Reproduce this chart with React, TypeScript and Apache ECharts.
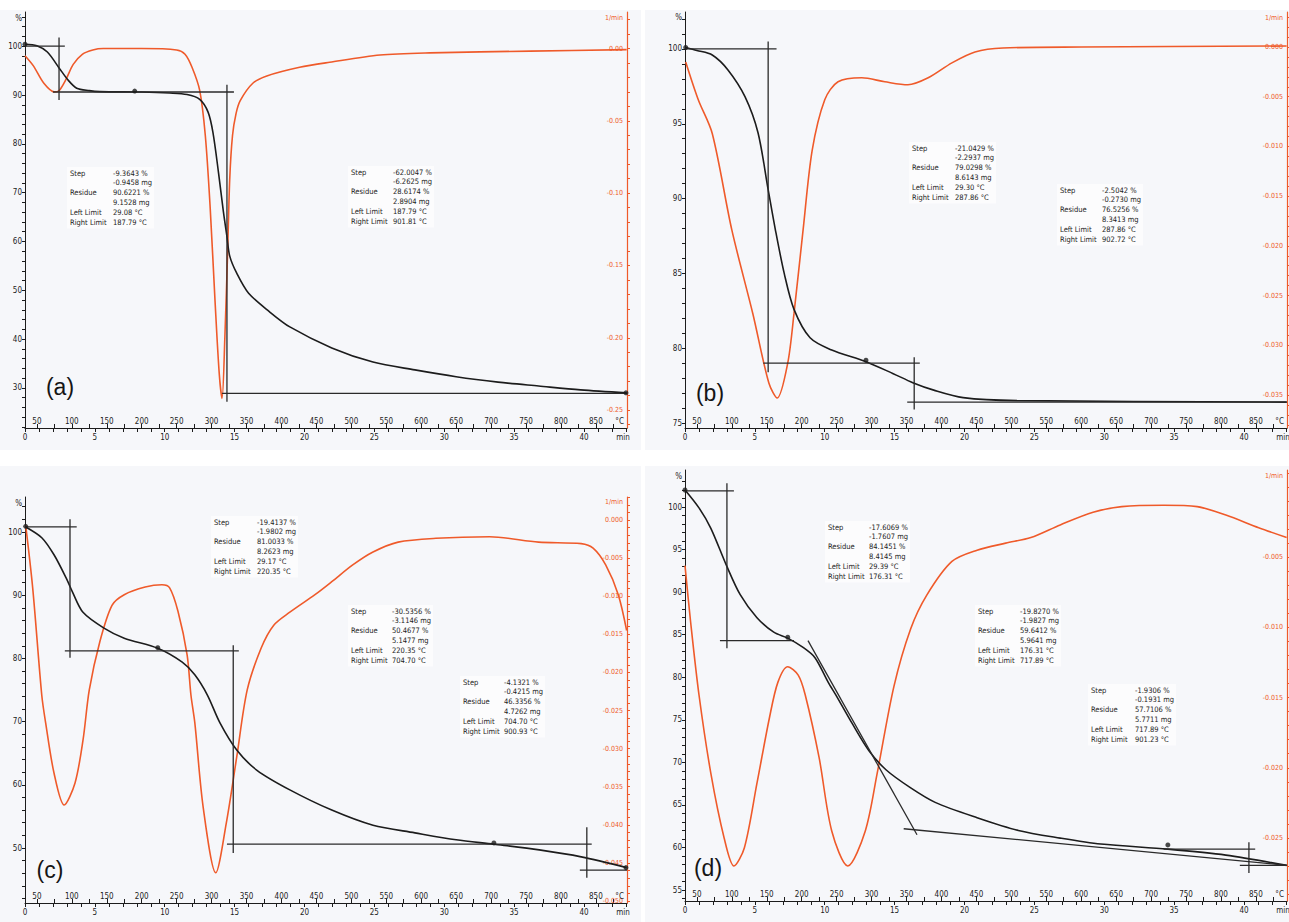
import { useEffect, useRef } from 'react';
import * as echarts from 'echarts';

type Pt = [number, number];

// ---------- shared axis values ----------
const tempLabels = [50, 100, 150, 200, 250, 300, 350, 400, 450, 500, 550, 600, 650, 700, 750, 800, 850];
const minuteLabels = [0, 5, 10, 15, 20, 25, 30, 35, 40];
const rowLabels = ['Step', '', 'Residue', '', 'Left Limit', 'Right Limit'];

// ---------- panel (a) ----------
const tgA: Pt[] = [[33, 100.4], [50, 100.1], [65, 98.8], [82, 95.5], [95, 93.0], [107, 91.4], [125, 90.9], [140, 90.7], [200, 90.6], [240, 90.4], [265, 90.1], [283, 89.1], [295, 86.5], [302, 82.3], [310, 74], [317, 66], [322, 61], [326, 57], [336, 53.5], [353, 49.4], [383, 45.6], [412, 42.5], [472, 38.2], [531, 35.3], [591, 33.7], [650, 32.3], [710, 31.2], [768, 30.4], [828, 29.6], [894, 29.0]];
const dtgA: Pt[] = [[33, -0.005], [45, -0.012], [60, -0.024], [75, -0.030], [82, -0.029], [92, -0.021], [102, -0.011], [115, -0.004], [130, -0.001], [145, 0], [200, 0], [250, -0.001], [262, -0.004], [272, -0.013], [283, -0.029], [291, -0.06], [298, -0.11], [305, -0.175], [311, -0.225], [315, -0.242], [319, -0.2], [323, -0.14], [326, -0.09], [330, -0.06], [335, -0.045], [341, -0.036], [359, -0.024], [379, -0.019], [426, -0.013], [469, -0.0095], [541, -0.0045], [612, -0.003], [756, -0.0018], [894, -0.0008]];
const segA: Pt[][] = [[[33, 100], [90, 100]], [[81.7, 101.8], [81.7, 89.0]], [[73, 90.62], [332, 90.62]], [[322, 92.1], [322, 27.2]], [[315, 28.9], [894.5, 28.9]]];
const dotsA: Pt[] = [[33, 100.4], [190, 90.8], [893, 29.0]];
const textA1 = ['-9.3643 %', '-0.9458 mg', '90.6221 %', '9.1528 mg', '29.08 °C', '187.79 °C'];
const textA2 = ['-62.0047 %', '-6.2625 mg', '28.6174 %', '2.8904 mg', '187.79 °C', '901.81 °C'];

// ---------- panel (b) ----------
const tgB: Pt[] = [[34, 100.1], [50, 99.9], [72, 99.6], [94.5, 98.6], [119, 96.8], [137.5, 94.4], [152, 90.6], [162, 88.0], [175, 85.0], [189, 82.6], [212, 80.7], [242, 79.9], [292, 79.1], [331, 78.3], [359, 77.7], [389, 77.2], [431, 76.7], [508, 76.5], [894, 76.4]];
const dtgB: Pt[] = [[34, -0.0015], [52, -0.0053], [72, -0.0087], [100, -0.0184], [130, -0.0268], [153, -0.0338], [165, -0.0353], [180, -0.0318], [189, -0.0268], [202, -0.0184], [215, -0.0104], [233, -0.0053], [252, -0.0035], [286, -0.0031], [319, -0.0035], [352, -0.0038], [381, -0.0031], [415, -0.0016], [448, -0.0005], [488, -0.0001], [600, 0], [894, 0.0001]];
const segB: Pt[][] = [[[33, 100], [164, 100]], [[152, 100.5], [152, 78.4]], [[145, 79.0], [369, 79.0]], [[361, 79.4], [361, 75.9]], [[351, 76.4], [894.5, 76.4]]];
const dotsB: Pt[] = [[34, 100.1], [292, 79.2]];
const textB1 = ['-21.0429 %', '-2.2937 mg', '79.0298 %', '8.6143 mg', '29.30 °C', '287.86 °C'];
const textB2 = ['-2.5042 %', '-0.2730 mg', '76.5256 %', '8.3413 mg', '287.86 °C', '902.72 °C'];

// ---------- panel (c) ----------
const tgC: Pt[] = [[34, 100.8], [57, 99.1], [74.5, 96.4], [92, 92.7], [101, 90.5], [116, 87.3], [146, 84.8], [175, 83.2], [223, 81.6], [258, 79.4], [276, 77.4], [294, 74.2], [312, 69.8], [336, 65.5], [365, 62.3], [412, 59.2], [472, 56.0], [531, 53.6], [591, 52.4], [650, 51.3], [704, 50.6], [769, 49.7], [829, 48.6], [894, 46.9]];
const dtgC: Pt[] = [[34, -0.0007], [44, -0.0089], [57, -0.023], [62.5, -0.0266], [74.5, -0.0332], [89, -0.0374], [104.6, -0.0345], [116, -0.0289], [125, -0.0223], [140, -0.016], [157.5, -0.0112], [175, -0.0098], [205, -0.0088], [229, -0.0085], [240, -0.0089], [252, -0.012], [265, -0.0177], [270.5, -0.023], [276, -0.0266], [288, -0.0377], [306, -0.0463], [321, -0.0398], [336, -0.0311], [351, -0.0223], [371, -0.0168], [389, -0.0138], [412, -0.0121], [448, -0.0098], [472, -0.0081], [502, -0.0059], [531, -0.0042], [567, -0.0029], [621, -0.0024], [698, -0.0022], [768, -0.0029], [829, -0.0031], [846, -0.0037], [864, -0.0059], [882, -0.0098], [894, -0.0145]];
const segC: Pt[][] = [[[33, 100.8], [107, 100.8]], [[97.4, 102], [97.4, 80.1]], [[90, 81.2], [339, 81.2]], [[331, 82.1], [331, 49.2]], [[322, 50.6], [844, 50.6]], [[837, 53.3], [837, 45.3]], [[827, 46.5], [894.5, 46.5]]];
const dotsC: Pt[] = [[34, 100.9], [223, 81.7], [704, 50.8], [893, 46.9]];
const textC1 = ['-19.4137 %', '-1.9802 mg', '81.0033 %', '8.2623 mg', '29.17 °C', '220.35 °C'];
const textC2 = ['-30.5356 %', '-3.1146 mg', '50.4677 %', '5.1477 mg', '220.35 °C', '704.70 °C'];
const textC3 = ['-4.1321 %', '-0.4215 mg', '46.3356 %', '4.7262 mg', '704.70 °C', '900.93 °C'];

// ---------- panel (d) ----------
const tgD: Pt[] = [[33, 102.0], [53, 99.9], [70, 97.5], [92, 93.2], [112, 89.7], [136, 87.0], [160, 85.3], [180, 84.6], [202, 83.5], [219, 82.3], [238, 79.4], [249, 77.9], [272, 74.6], [296, 71.4], [321, 69.1], [356, 67.0], [391, 65.3], [451, 63.5], [510, 62.0], [570, 61.1], [628, 60.4], [724, 59.8], [807, 59.1], [894, 57.9]];
const dtgD: Pt[] = [[33, -0.0056], [41, -0.0096], [53, -0.0148], [70, -0.0204], [89, -0.025], [103, -0.027], [118, -0.0257], [136, -0.0211], [154, -0.0164], [166, -0.0139], [180, -0.0128], [195, -0.0134], [205, -0.0148], [225, -0.0193], [243, -0.0245], [266, -0.027], [291, -0.0245], [308, -0.0204], [332, -0.0142], [356, -0.0101], [379, -0.0077], [415, -0.0053], [451, -0.0045], [492, -0.004], [528, -0.0036], [570, -0.0027], [617, -0.0018], [658, -0.0014], [718, -0.0013], [766, -0.0014], [807, -0.002], [854, -0.0029], [894, -0.0036]];
const segD: Pt[][] = [[[33, 101.9], [103, 101.9]], [[93, 102.8], [93, 83.4]], [[83, 84.3], [189, 84.3]], [[209, 84.3], [365, 61.5]], [[346, 62.2], [894.5, 57.9]], [[718, 59.8], [849, 59.8]], [[840, 60.6], [840, 57.0]], [[827, 57.9], [894.5, 57.9]]];
const dotsD: Pt[] = [[33, 102.0], [180, 84.7], [724, 60.3]];
const textD1 = ['-17.6069 %', '-1.7607 mg', '84.1451 %', '8.4145 mg', '29.39 °C', '176.31 °C'];
const textD2 = ['-19.8270 %', '-1.9827 mg', '59.6412 %', '5.9641 mg', '176.31 °C', '717.89 °C'];
const textD3 = ['-1.9306 %', '-0.1931 mg', '57.7106 %', '5.7711 mg', '717.89 °C', '901.23 °C'];

// ---------- helpers ----------
function range(a: number, b: number, step: number, dec = 6): number[] {
  const out: number[] = [];
  const n = Math.round((b - a) / step);
  for (let i = 0; i <= n; i++) out.push(+(a + i * step).toFixed(dec));
  return out;
}

const ORANGE = '#ef5a2a';
const INK = '#1c1c1c';
const FONT = '"DejaVu Sans Condensed", "DejaVu Sans", sans-serif';

const T_MIN = 33;
const T_MAX = 894.5;
const M_MAX = 43.08;
const TEMP_END = 884; // position of the "°C" unit label
const MIN_END = 42.8; // position of the "min" unit label

interface PanelCfg {
  grid: { left: number; top: number; width: number; height: number };
  left: { min: number; max: number; labels: number[]; ticks: number[]; unit: number };
  right: { min: number; max: number; labels: number[]; ticks: number[]; unit: number; dec: number };
  tg: Pt[];
  dtg: Pt[];
  segs: Pt[][];
  dots: Pt[];
  blocks: { lx: number; vx: number; y: number; vals: string[] }[];
  label: string;
  labelPos: [number, number];
  bg: [number, number, number, number];
}

const panels: PanelCfg[] = [
  {
    grid: { left: 25, top: 12, width: 602, height: 416 },
    left: { min: 21.8, max: 107.0, labels: range(30, 100, 10), ticks: range(22, 106, 2), unit: 105.7 },
    right: { min: -0.2624, max: 0.02524, labels: range(-0.25, 0, 0.05), ticks: range(-0.26, 0.02, 0.01), unit: 0.0211, dec: 2 },
    tg: tgA, dtg: dtgA, segs: segA, dots: dotsA,
    blocks: [{ lx: 70, vx: 113, y: 173, vals: textA1 }, { lx: 351, vx: 393, y: 172, vals: textA2 }],
    label: '(a)', labelPos: [60, 387], bg: [0, 10, 641, 440],
  },
  {
    grid: { left: 685, top: 12, width: 602, height: 416 },
    left: { min: 74.67, max: 102.47, labels: range(75, 100, 5), ticks: range(75, 102, 1), unit: 102.07 },
    right: { min: -0.03832, max: 0.00352, labels: range(-0.035, 0, 0.005), ticks: range(-0.038, 0.003, 0.001), unit: 0.00292, dec: 3 },
    tg: tgB, dtg: dtgB, segs: segB, dots: dotsB,
    blocks: [{ lx: 912, vx: 955, y: 148, vals: textB1 }, { lx: 1060, vx: 1102, y: 190, vals: textB2 }],
    label: '(b)', labelPos: [710, 393], bg: [645, 10, 644, 440],
  },
  {
    grid: { left: 25, top: 497, width: 602, height: 406 },
    left: { min: 41.3, max: 105.54, labels: range(50, 100, 10), ticks: range(42, 104, 2), unit: 104.59 },
    right: { min: -0.05026, max: 0.00302, labels: range(-0.05, 0, 0.005), ticks: range(-0.05, 0.003, 0.001), unit: 0.00236, dec: 3 },
    tg: tgC, dtg: dtgC, segs: segC, dots: dotsC,
    blocks: [{ lx: 214, vx: 257, y: 522, vals: textC1 }, { lx: 351, vx: 392, y: 611, vals: textC2 }, { lx: 463, vx: 504, y: 682, vals: textC3 }],
    label: '(c)', labelPos: [50, 870], bg: [0, 466, 641, 456],
  },
  {
    grid: { left: 685, top: 470, width: 602, height: 431 },
    left: { min: 53.71, max: 104.35, labels: range(55, 100, 5), ticks: range(54, 103, 1), unit: 103.64 },
    right: { min: -0.02949, max: 0.00121, labels: range(-0.025, -0.005, 0.005), ticks: range(-0.029, 0.001, 0.001), unit: 0.00078, dec: 3 },
    tg: tgD, dtg: dtgD, segs: segD, dots: dotsD,
    blocks: [{ lx: 828, vx: 869, y: 527, vals: textD1 }, { lx: 978, vx: 1020, y: 611, vals: textD2 }, { lx: 1091, vx: 1135, y: 690, vals: textD3 }],
    label: '(d)', labelPos: [708, 868], bg: [645, 466, 644, 456],
  },
];

const near = (a: number, b: number) => Math.abs(a - b) < 1e-9;

function buildOption() {
  const grids: any[] = [];
  const xAxes: any[] = [];
  const yAxes: any[] = [];
  const series: any[] = [];
  const elements: any[] = [];

  panels.forEach((p, i) => {
    grids.push({ ...p.grid, containLabel: false, outerBoundsMode: 'none', show: false });

    // temperature axis (data axis)
    xAxes.push({
      type: 'value', gridIndex: i, min: T_MIN, max: T_MAX, position: 'bottom',
      axisLine: { show: true, onZero: false, lineStyle: { color: INK, width: 1 } },
      axisTick: { show: true, inside: true, length: 4, customValues: range(50, 875, 25), lineStyle: { color: INK } },
      axisLabel: {
        show: true, inside: true, margin: 3, fontSize: 8, fontFamily: FONT, color: INK,
        customValues: [...tempLabels, TEMP_END],
        formatter: (v: number) => (near(v, TEMP_END) ? '°C' : String(v)),
      },
      splitLine: { show: false },
    });
    // minutes axis
    xAxes.push({
      type: 'value', gridIndex: i, min: 0, max: M_MAX, position: 'bottom',
      axisLine: { show: false, onZero: false },
      axisTick: { show: true, inside: false, length: 4, customValues: range(0, 43, 1), lineStyle: { color: INK } },
      axisLabel: {
        show: true, margin: 5, fontSize: 8, fontFamily: FONT, color: INK,
        customValues: [...minuteLabels, MIN_END],
        formatter: (v: number) => (near(v, MIN_END) ? 'min' : String(v)),
      },
      splitLine: { show: false },
    });

    yAxes.push({
      type: 'value', gridIndex: i, min: p.left.min, max: p.left.max, position: 'left',
      axisLine: { show: true, onZero: false, lineStyle: { color: INK, width: 1 } },
      axisTick: { show: true, length: 3, customValues: p.left.ticks, lineStyle: { color: INK } },
      axisLabel: {
        show: true, margin: 3, fontSize: 8, fontFamily: FONT, color: INK,
        customValues: [...p.left.labels, p.left.unit],
        formatter: (v: number) => (near(v, p.left.unit) ? '%' : String(v)),
      },
      splitLine: { show: false },
    });
    yAxes.push({
      type: 'value', gridIndex: i, min: p.right.min, max: p.right.max, position: 'right',
      axisLine: { show: true, onZero: false, lineStyle: { color: ORANGE, width: 1.2 } },
      axisTick: { show: true, length: 3, customValues: p.right.ticks, lineStyle: { color: ORANGE } },
      axisLabel: {
        show: true, inside: true, margin: 4, fontSize: 7, fontFamily: FONT, color: ORANGE,
        customValues: [...p.right.labels, p.right.unit],
        formatter: (v: number) => (near(v, p.right.unit) ? '1/min' : v.toFixed(p.right.dec)),
      },
      splitLine: { show: false },
    });

    const xi = i * 2;
    const yl = i * 2;
    const yr = i * 2 + 1;

    series.push({
      type: 'line', name: 'DTG ' + p.label, xAxisIndex: xi, yAxisIndex: yr, data: p.dtg,
      showSymbol: false, smooth: 0.3,
      lineStyle: { color: ORANGE, width: 1.6 }, z: 3,
    });
    series.push({
      type: 'line', name: 'TG ' + p.label, xAxisIndex: xi, yAxisIndex: yl, data: p.tg,
      showSymbol: false, smooth: 0.3,
      lineStyle: { color: INK, width: 1.6 }, z: 4,
    });
    p.segs.forEach((s) => {
      series.push({
        type: 'line', xAxisIndex: xi, yAxisIndex: yl, data: s, showSymbol: false,
        lineStyle: { color: '#2a2a2a', width: 1.3 }, z: 5, silent: true,
      });
    });
    series.push({
      type: 'scatter', xAxisIndex: xi, yAxisIndex: yl, data: p.dots, symbolSize: 5,
      itemStyle: { color: INK }, z: 6, silent: true,
    });

    // background of the panel
    elements.push({
      type: 'rect', z: -10, silent: true,
      shape: { x: p.bg[0], y: p.bg[1], width: p.bg[2], height: p.bg[3] },
      style: { fill: '#f6f7fa' },
    });
    // text blocks
    p.blocks.forEach((b) => {
      const rowH = 9.9;
      elements.push({
        type: 'rect', z: 40, silent: true,
        shape: { x: b.lx - 3, y: b.y - 6, width: b.vx - b.lx + 44, height: rowH * 6 + 2 },
        style: { fill: '#fcfcfd' },
      });
      rowLabels.forEach((l, r) => {
        if (!l) return;
        elements.push({
          type: 'text', z: 50, silent: true, x: b.lx, y: b.y + r * rowH,
          style: { text: l, fontSize: 7.5, fontFamily: FONT, fill: '#222', align: 'left', verticalAlign: 'middle' },
        });
      });
      b.vals.forEach((v, r) => {
        elements.push({
          type: 'text', z: 50, silent: true, x: b.vx, y: b.y + r * rowH,
          style: { text: v, fontSize: 7.5, fontFamily: FONT, fill: '#222', align: 'left', verticalAlign: 'middle' },
        });
      });
    });
    elements.push({
      type: 'text', z: 50, silent: true, x: p.labelPos[0], y: p.labelPos[1],
      style: { text: p.label, fontSize: 23, fontFamily: '"Liberation Sans", Arial, sans-serif', fill: '#151515', align: 'center', verticalAlign: 'middle' },
    });
  });

  return {
    animation: false,
    backgroundColor: '#ffffff',
    grid: grids,
    xAxis: xAxes,
    yAxis: yAxes,
    series,
    graphic: { elements },
  };
}

export default function App() {
  const ref = useRef<HTMLDivElement>(null);
  useEffect(() => {
    if (!ref.current) return;
    const chart = echarts.init(ref.current, undefined, { renderer: 'svg' });
    chart.setOption(buildOption() as any);
    return () => chart.dispose();
  }, []);
  return (
    <div
      ref={ref}
      style={{ position: 'fixed', left: 0, top: 0, width: 1289, height: 922, background: '#fff' }}
    />
  );
}
